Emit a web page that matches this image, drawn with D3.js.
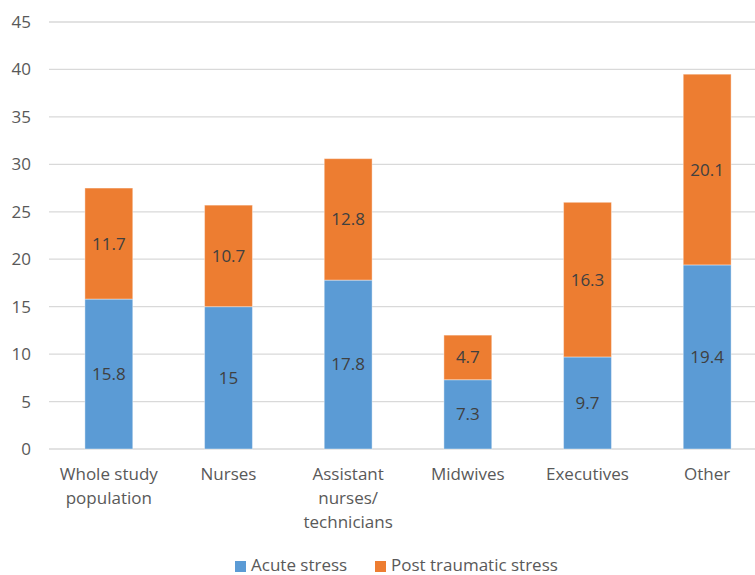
<!DOCTYPE html>
<html><head><meta charset="utf-8">
<script src="https://cdn.jsdelivr.net/npm/d3@7"></script>
<style>body{margin:0;background:#fff;} svg{display:block;font-family:"Open Sans",sans-serif;}</style>
</head><body>
<svg id="c" width="755" height="575"></svg>
<script>
const categories = [["Whole study","population"],["Nurses"],["Assistant","nurses/","technicians"],["Midwives"],["Executives"],["Other"]];
const acute = [15.8, 15, 17.8, 7.3, 9.7, 19.4];
const post = [11.7, 10.7, 12.8, 4.7, 16.3, 20.1];
const yTicks = [0,5,10,15,20,25,30,35,40,45];
const seriesNames = ["Acute stress","Post traumatic stress"];
const colors = ["#5B9BD5","#ED7D31"];

const svg = d3.select("#c");
const x = d3.scaleBand().domain(d3.range(categories.length)).range([49, 767]).paddingInner(0.6).paddingOuter(0.3);
const y = d3.scaleLinear().domain([0,45]).range([449, 22]);

svg.append("g").selectAll("line").data(yTicks).join("line")
  .attr("x1",49).attr("x2",755).attr("y1",d=>y(d)).attr("y2",d=>y(d))
  .attr("stroke","#d9d9d9").attr("stroke-width",1.3);

svg.append("g").selectAll("text").data(yTicks).join("text")
  .attr("x",31).attr("y",d=>y(d)).attr("dy","0.35em").attr("text-anchor","end")
  .attr("font-size",17).attr("fill","#595959").text(d=>d);

const stacked = categories.map((c,i)=>({i, a:acute[i], p:post[i]}));
const bw = x.bandwidth();
const g = svg.append("g");
g.selectAll("rect.a").data(stacked).join("rect")
  .attr("x",d=>x(d.i)).attr("width",bw)
  .attr("y",d=>y(d.a)).attr("height",d=>y(0)-y(d.a))
  .attr("fill",colors[0]).attr("stroke","#fff").attr("stroke-opacity",0.4).attr("stroke-width",1);
g.selectAll("rect.p").data(stacked).join("rect")
  .attr("x",d=>x(d.i)).attr("width",bw)
  .attr("y",d=>y(d.a+d.p)).attr("height",d=>y(d.a)-y(d.a+d.p))
  .attr("fill",colors[1]).attr("stroke","#fff").attr("stroke-opacity",0.4).attr("stroke-width",1);

g.selectAll("text.a").data(stacked).join("text")
  .attr("x",d=>x(d.i)+bw/2).attr("y",d=>y(d.a/2)).attr("dy","0.35em").attr("text-anchor","middle")
  .attr("font-size",17).attr("fill","#404040").text(d=>d.a);
g.selectAll("text.p").data(stacked).join("text")
  .attr("x",d=>x(d.i)+bw/2).attr("y",d=>y(d.a+d.p/2)).attr("dy","0.35em").attr("text-anchor","middle")
  .attr("font-size",17).attr("fill","#404040").text(d=>d.p);

const xl = svg.append("g");
categories.forEach((lines,i)=>{
  const t = xl.append("text").attr("text-anchor","middle").attr("font-size",17).attr("fill","#595959");
  lines.forEach((ln,j)=>{
    t.append("tspan").attr("x",x(i)+bw/2).attr("y",480+j*24).text(ln);
  });
});

const leg = svg.append("g");
const legX = [235, 375];
seriesNames.forEach((n,i)=>{
  leg.append("rect").attr("x",legX[i]).attr("y",561).attr("width",11).attr("height",11).attr("fill",colors[i]);
  leg.append("text").attr("x",legX[i]+16).attr("y",571).attr("font-size",17).attr("fill","#595959").text(n);
});
</script>
</body></html>
